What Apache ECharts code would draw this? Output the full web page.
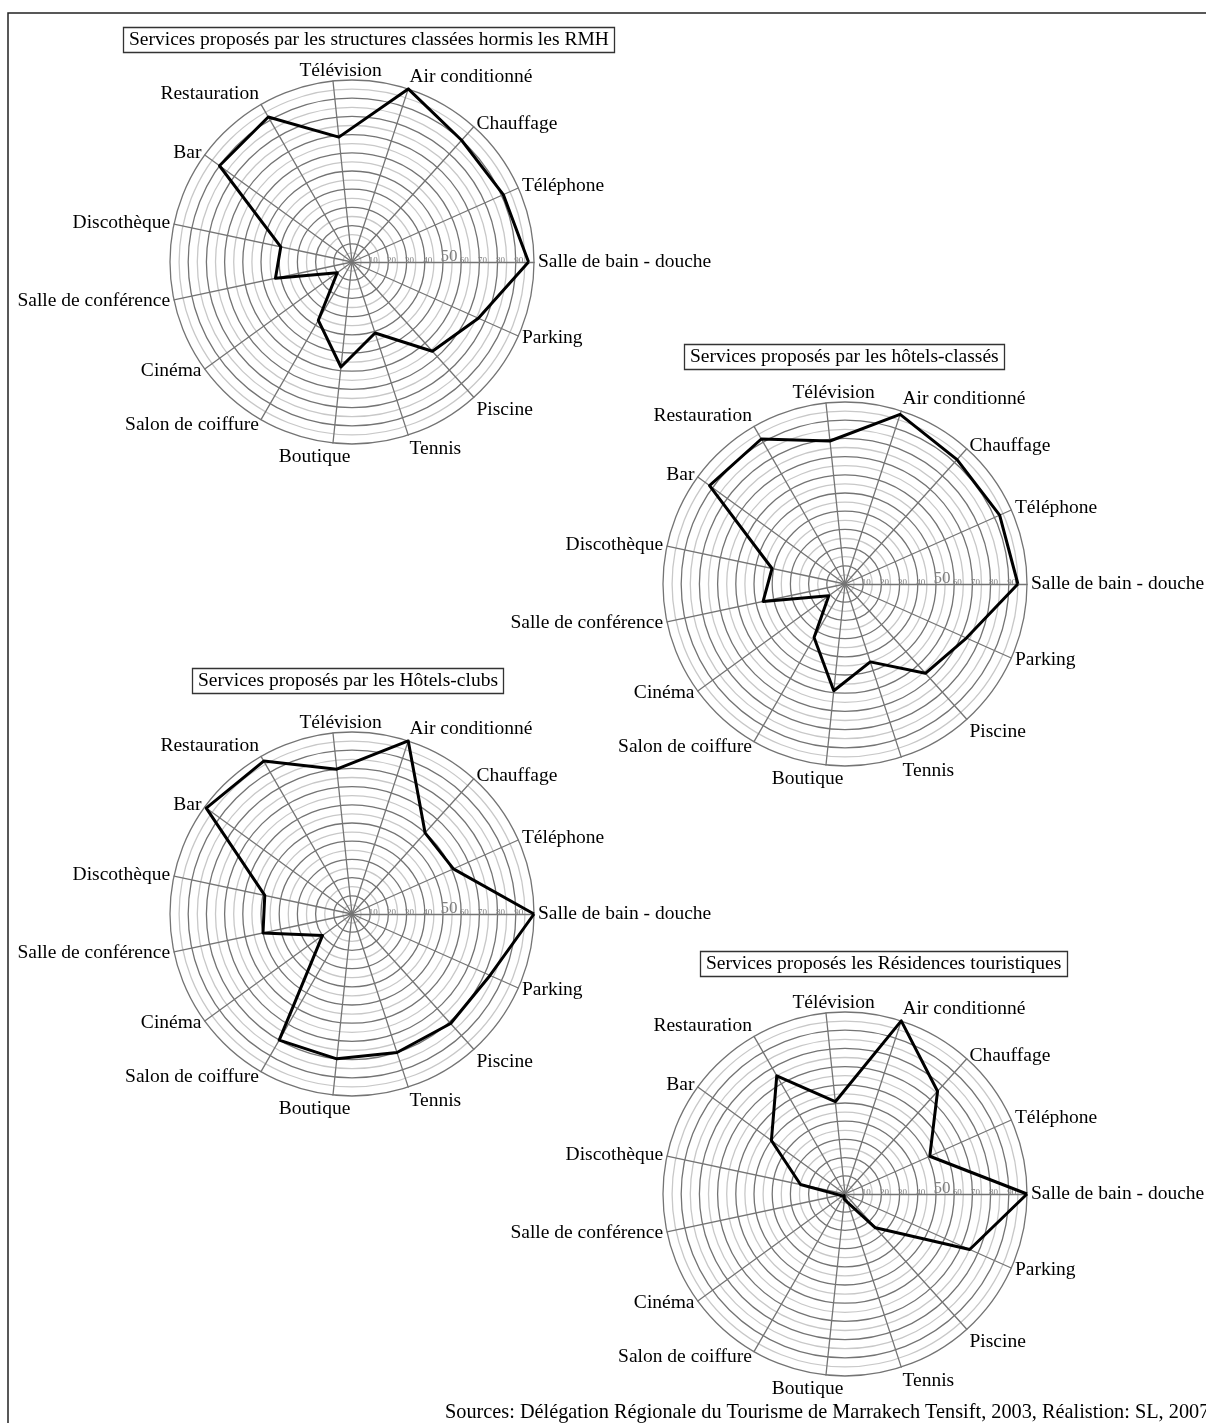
<!DOCTYPE html>
<html>
<head>
<meta charset="utf-8">
<script src="https://cdn.jsdelivr.net/npm/echarts@6/dist/echarts.min.js"></script>
<style>
html, body { margin: 0; padding: 0; background: #fff; }
#chart { width: 1206px; height: 1423px; }
</style>
</head>
<body>
<div id="chart"></div>
<script>
// axes, counter-clockwise from the right
var services = ['Salle de bain - douche', 'Téléphone', 'Chauffage', 'Air conditionné', 'Télévision',
  'Restauration', 'Bar', 'Discothèque', 'Salle de conférence', 'Cinéma', 'Salon de coiffure',
  'Boutique', 'Tennis', 'Piscine', 'Parking'];
var ringLabels = [10, 20, 30, 40, 50, 60, 70, 80, 90];

// % of establishments offering each service
var structuresClassees = [97, 91, 90, 100, 69, 92, 90, 40, 43, 10, 37, 58, 41, 66, 76];
var hotelsClasses = [95, 93, 92, 98, 79, 92, 92, 41, 46, 11, 34, 59, 45, 66, 73];
var hotelsClubs = [100, 61, 60, 100, 80, 97, 99, 49, 50, 20, 80, 80, 80, 81, 83];
var residences = [100, 51, 76, 100, 51, 75, 50, 25, 3, 2, 1, 3, 5, 25, 75];

var titles = ['Services proposés par les structures classées hormis les RMH',
  'Services proposés par les hôtels-classés',
  'Services proposés par les Hôtels-clubs',
  'Services proposés les Résidences touristiques'];
var sourceText = 'Sources: Délégation Régionale du Tourisme de Marrakech Tensift, 2003, Réalistion: SL, 2007';

var SERIF = 'Liberation Serif';

// name placement tweaks, same on the four charts
var namePlacement = {
  'Air conditionné': { align: 'left', verticalAlign: 'bottom', lineHeight: 16 },
  'Télévision': { align: 'center', verticalAlign: 'bottom', lineHeight: 12, padding: [0, 0, 0, 16] },
  'Restauration': { verticalAlign: 'bottom', lineHeight: 14 },
  'Salon de coiffure': { verticalAlign: 'top', lineHeight: 4 },
  'Boutique': { align: 'center', verticalAlign: 'top', padding: [0, 36, 0, 0] },
  'Tennis': { verticalAlign: 'top' },
  'Piscine': { verticalAlign: 'top' }
};

function buildIndicators() {
  return services.map(function (name, i) {
    var ind = { name: name, min: 0, max: 100 };
    if (namePlacement[name]) ind.nameTextStyle = namePlacement[name];
    if (i === 0) {
      ind.axisLabel = {
        show: true,
        margin: -3,
        color: '#808080',
        fontFamily: SERIF,
        fontSize: 9,
        formatter: function (v) {
          if (ringLabels.indexOf(v) < 0) return '';
          return v === 50 ? '{big|50}' : '{s|' + v + '}';
        },
        rich: {
          s: { fontSize: 9, fontFamily: SERIF, color: '#808080', padding: [0, 0, 0, 6] },
          big: { fontSize: 17, fontFamily: SERIF, color: '#808080', padding: [0, 0, 0, 12] }
        }
      };
    }
    return ind;
  });
}

function buildRadar(center) {
  return {
    center: center,
    radius: 182,
    startAngle: 0,
    splitNumber: 20,
    shape: 'circle',
    indicator: buildIndicators(),
    nameGap: 4,
    axisName: { color: '#000', fontFamily: SERIF, fontSize: 19.5 },
    splitLine: { lineStyle: { color: ['#747474', '#c8c8c8'], width: 1.3 } },
    splitArea: { show: false },
    axisLine: { lineStyle: { color: '#747474', width: 1.3 } },
    axisTick: { show: false },
    axisLabel: { show: false }
  };
}

function buildTitle(text, left, top) {
  return {
    text: text,
    left: left,
    top: top,
    padding: [3, 6, 3, 6],
    borderColor: '#333',
    borderWidth: 1.3,
    textStyle: { fontFamily: SERIF, fontSize: 19.5, fontWeight: 'normal', color: '#000' }
  };
}

function buildSeries(values, idx) {
  return {
    type: 'radar',
    radarIndex: idx,
    symbol: 'none',
    silent: true,
    lineStyle: { color: '#000', width: 3 },
    data: [{ value: values }]
  };
}

var chart = echarts.init(document.getElementById('chart'), null, { renderer: 'canvas' });
chart.setOption({
  animation: false,
  backgroundColor: '#fff',
  title: [
    buildTitle(titles[0], 123, 27),
    buildTitle(titles[1], 684, 344),
    buildTitle(titles[2], 192, 668),
    buildTitle(titles[3], 700, 951)
  ],
  radar: [
    buildRadar([352, 262]),
    buildRadar([845, 584]),
    buildRadar([352, 914]),
    buildRadar([845, 1194])
  ],
  series: [
    buildSeries(structuresClassees, 0),
    buildSeries(hotelsClasses, 1),
    buildSeries(hotelsClubs, 2),
    buildSeries(residences, 3)
  ],
  graphic: [
    {
      type: 'rect',
      shape: { x: 8, y: 13, width: 1400, height: 1600 },
      style: { fill: 'none', stroke: '#222', lineWidth: 1.5 },
      silent: true
    },
    {
      type: 'text',
      left: 445,
      top: 1403,
      style: { text: sourceText, font: '20.3px "Liberation Serif"', fill: '#000' },
      silent: true
    }
  ]
});
</script>
</body>
</html>
